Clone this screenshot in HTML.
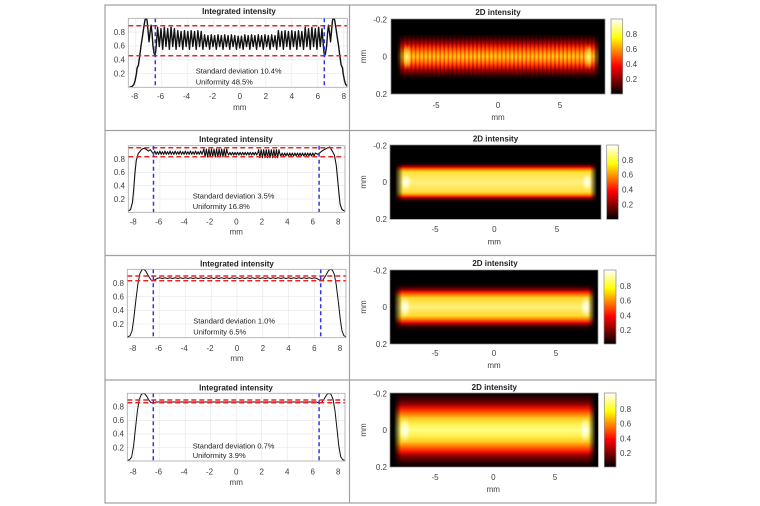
<!DOCTYPE html>
<html><head><meta charset="utf-8"><style>html,body{margin:0;padding:0;background:#fff}svg{display:block}</style></head>
<body>
<svg width="760" height="506" viewBox="0 0 760 506" xmlns="http://www.w3.org/2000/svg" font-family="'Liberation Sans', Arial, sans-serif">
<defs>
<linearGradient id="cb" x1="0" y1="0" x2="0" y2="1"><stop offset="0" stop-color="#fff"/><stop offset=".25" stop-color="#ff0"/><stop offset=".625" stop-color="#f00"/><stop offset="1" stop-color="#000"/></linearGradient>
<linearGradient id="b1" x1="0" y1="0" x2="0" y2="1"><stop offset="0" stop-color="#000"/><stop offset=".2" stop-color="#000"/><stop offset=".26" stop-color="#300000"/><stop offset=".32" stop-color="#800000"/><stop offset=".38" stop-color="#d81000"/><stop offset=".44" stop-color="#ff4800"/><stop offset=".5" stop-color="#ff7800"/><stop offset=".56" stop-color="#ff4800"/><stop offset=".62" stop-color="#d81000"/><stop offset=".68" stop-color="#800000"/><stop offset=".74" stop-color="#300000"/><stop offset=".8" stop-color="#000"/><stop offset="1" stop-color="#000"/></linearGradient>
<linearGradient id="b1s" x1="0" y1="0" x2="0" y2="1"><stop offset="0" stop-color="#000"/><stop offset=".2" stop-color="#000"/><stop offset=".26" stop-color="#480000"/><stop offset=".32" stop-color="#b00000"/><stop offset=".38" stop-color="#ff3800"/><stop offset=".44" stop-color="#ff9800"/><stop offset=".5" stop-color="#ffcc20"/><stop offset=".56" stop-color="#ff9800"/><stop offset=".62" stop-color="#ff3800"/><stop offset=".68" stop-color="#b00000"/><stop offset=".74" stop-color="#480000"/><stop offset=".8" stop-color="#000"/><stop offset="1" stop-color="#000"/></linearGradient>
<pattern id="p1" patternUnits="userSpaceOnUse" x="400" y="19" width="4.1" height="75"><rect x="0" y="0" width="2.4" height="75" fill="url(#b1s)"/></pattern>
<linearGradient id="b2" x1="0" y1="0" x2="0" y2="1"><stop offset="0" stop-color="#000"/><stop offset=".23" stop-color="#000"/><stop offset=".26" stop-color="#300000"/><stop offset=".29" stop-color="#a00000"/><stop offset=".31" stop-color="#ff3000"/><stop offset=".34" stop-color="#ffb000"/><stop offset=".37" stop-color="#ffe040"/><stop offset=".5" stop-color="#fff080"/><stop offset=".63" stop-color="#ffe040"/><stop offset=".66" stop-color="#ffb000"/><stop offset=".69" stop-color="#ff3000"/><stop offset=".71" stop-color="#a00000"/><stop offset=".74" stop-color="#300000"/><stop offset=".77" stop-color="#000"/><stop offset="1" stop-color="#000"/></linearGradient>
<linearGradient id="b3" x1="0" y1="0" x2="0" y2="1"><stop offset="0" stop-color="#000"/><stop offset=".18" stop-color="#000"/><stop offset=".23" stop-color="#300000"/><stop offset=".27" stop-color="#900000"/><stop offset=".30" stop-color="#ff2000"/><stop offset=".34" stop-color="#ff9000"/><stop offset=".38" stop-color="#ffd830"/><stop offset=".5" stop-color="#fff07a"/><stop offset=".62" stop-color="#ffd830"/><stop offset=".66" stop-color="#ff9000"/><stop offset=".70" stop-color="#ff2000"/><stop offset=".73" stop-color="#900000"/><stop offset=".77" stop-color="#300000"/><stop offset=".82" stop-color="#000"/><stop offset="1" stop-color="#000"/></linearGradient>
<linearGradient id="b4" x1="0" y1="0" x2="0" y2="1"><stop offset="0" stop-color="#050000"/><stop offset=".04" stop-color="#200000"/><stop offset=".10" stop-color="#500000"/><stop offset=".16" stop-color="#a00000"/><stop offset=".22" stop-color="#ff2000"/><stop offset=".28" stop-color="#ff7800"/><stop offset=".34" stop-color="#ffc820"/><stop offset=".42" stop-color="#fff050"/><stop offset=".5" stop-color="#ffff80"/><stop offset=".58" stop-color="#fff050"/><stop offset=".66" stop-color="#ffc820"/><stop offset=".72" stop-color="#ff7800"/><stop offset=".78" stop-color="#ff2000"/><stop offset=".84" stop-color="#a00000"/><stop offset=".90" stop-color="#500000"/><stop offset=".96" stop-color="#200000"/><stop offset="1" stop-color="#050000"/></linearGradient>
<linearGradient id="h1"><stop offset=".028" stop-color="#000"/><stop offset=".061" stop-color="#fff"/><stop offset=".944" stop-color="#fff"/><stop offset=".977" stop-color="#000"/></linearGradient>
<linearGradient id="h2"><stop offset=".0237" stop-color="#000"/><stop offset=".0616" stop-color="#fff"/><stop offset=".948" stop-color="#fff"/><stop offset=".981" stop-color="#000"/></linearGradient>
<linearGradient id="h3"><stop offset=".019" stop-color="#000"/><stop offset=".058" stop-color="#fff"/><stop offset=".952" stop-color="#fff"/><stop offset=".986" stop-color="#000"/></linearGradient>
<linearGradient id="h4"><stop offset=".0187" stop-color="#000"/><stop offset=".0528" stop-color="#fff"/><stop offset=".9539" stop-color="#fff"/><stop offset=".9875" stop-color="#000"/></linearGradient>
<mask id="m1" maskUnits="userSpaceOnUse" x="391" y="19" width="214" height="75"><rect x="391" y="19" width="214" height="75" fill="url(#h1)"/></mask>
<mask id="m2" maskUnits="userSpaceOnUse" x="390" y="145" width="211" height="74.3"><rect x="390" y="145" width="211" height="74.3" fill="url(#h2)"/></mask>
<mask id="m3" maskUnits="userSpaceOnUse" x="390" y="270" width="208" height="74"><rect x="390" y="270" width="208" height="74" fill="url(#h3)"/></mask>
<mask id="m4" maskUnits="userSpaceOnUse" x="390" y="393" width="208.3" height="74"><rect x="390" y="393" width="208.3" height="74" fill="url(#h4)"/></mask>
<radialGradient id="gy"><stop offset="0" stop-color="#ffffa0" stop-opacity=".95"/><stop offset=".55" stop-color="#ffe040" stop-opacity=".6"/><stop offset="1" stop-color="#ffa000" stop-opacity="0"/></radialGradient>
<radialGradient id="gw"><stop offset="0" stop-color="#ffffff" stop-opacity="1"/><stop offset=".5" stop-color="#ffffd0" stop-opacity=".7"/><stop offset="1" stop-color="#fff080" stop-opacity="0"/></radialGradient>
<clipPath id="c1"><rect x="128.3" y="18.3" width="219" height="69"/></clipPath>
<clipPath id="c2"><rect x="128.3" y="145.7" width="216.7" height="66.6"/></clipPath>
<clipPath id="c3"><rect x="127.3" y="269.3" width="218.7" height="68.4"/></clipPath>
<clipPath id="c4"><rect x="127.3" y="393.3" width="217.7" height="67.7"/></clipPath>
</defs>

<!-- table -->
<g stroke="#a0a0a0" stroke-width="1.2" fill="none">
<rect x="105" y="5" width="551" height="498"/>
<line x1="349.5" y1="5" x2="349.5" y2="503"/>
<line x1="105" y1="130.5" x2="656" y2="130.5"/>
<line x1="105" y1="255.5" x2="656" y2="255.5"/>
<line x1="105" y1="380" x2="656" y2="380"/>
</g>

<!-- ============ ROW 1 LEFT ============ -->
<g stroke="#e6e6e6" stroke-width=".6">
<line x1="135.8" y1="18.3" x2="135.8" y2="87.3"/><line x1="161.8" y1="18.3" x2="161.8" y2="87.3"/><line x1="187.8" y1="18.3" x2="187.8" y2="87.3"/><line x1="213.8" y1="18.3" x2="213.8" y2="87.3"/><line x1="239.8" y1="18.3" x2="239.8" y2="87.3"/><line x1="265.8" y1="18.3" x2="265.8" y2="87.3"/><line x1="291.8" y1="18.3" x2="291.8" y2="87.3"/><line x1="317.8" y1="18.3" x2="317.8" y2="87.3"/><line x1="343.8" y1="18.3" x2="343.8" y2="87.3"/>
<line x1="128.3" y1="73.5" x2="347.3" y2="73.5"/><line x1="128.3" y1="59.7" x2="347.3" y2="59.7"/><line x1="128.3" y1="45.9" x2="347.3" y2="45.9"/><line x1="128.3" y1="32.1" x2="347.3" y2="32.1"/>
</g>
<g clip-path="url(#c1)"><g transform="translate(239.8,87.3) scale(13,-69)">
<path vector-effect="non-scaling-stroke" fill="none" stroke="#111" stroke-width="1.4" stroke-linejoin="round" d="M-8.5,0 L-8.3,.01 L-8.15,.04 L-8.05,.1 L-7.95,.2 L-7.9,.28 L-7.8,.32 L-7.7,.45 L-7.6,.6 L-7.5,.72 L-7.4,.85 L-7.3,.97 L-7.2,1.03 L-7.12,.95 L-7.05,.8 L-6.98,.66 L-6.9,.8 L-6.82,.9 L-6.75,.78 L-6.68,.6 L-6.6,.5 L-6.52,.45 L-6.45,.55
l.129,.32 l.129,-.28 l.129,.26 l.129,-.30 l.129,.32 l.129,-.28 l.129,.26 l.129,-.30 l.129,.32 l.129,-.28 l.129,.26 l.129,-.30
l.129,.27 l.129,-.23 l.129,.22 l.129,-.26 l.129,.27 l.129,-.23 l.129,.22 l.129,-.26 l.129,.27 l.129,-.23 l.129,.22 l.129,-.26 l.129,.27 l.129,-.23 l.129,.22 l.129,-.26
l.129,.21 l.129,-.17 l.129,.16 l.129,-.20 l.129,.21 l.129,-.17 l.129,.16 l.129,-.20 l.129,.21 l.129,-.17 l.129,.16 l.129,-.20 l.129,.21 l.129,-.17 l.129,.16 l.129,-.20 l.129,.21 l.129,-.17 l.129,.16 l.129,-.20
l.129,.19 l.129,-.17 l.129,.17 l.129,-.19
l.129,.21 l.129,-.17 l.129,.16 l.129,-.20 l.129,.21 l.129,-.17 l.129,.16 l.129,-.20 l.129,.21 l.129,-.17 l.129,.16 l.129,-.20 l.129,.21 l.129,-.17 l.129,.16 l.129,-.20 l.129,.21 l.129,-.17 l.129,.16 l.129,-.20
l.129,.27 l.129,-.23 l.129,.22 l.129,-.26 l.129,.27 l.129,-.23 l.129,.22 l.129,-.26 l.129,.27 l.129,-.23 l.129,.22 l.129,-.26 l.129,.27 l.129,-.23 l.129,.22 l.129,-.26
l.129,.32 l.129,-.28 l.129,.26 l.129,-.30 l.129,.32 l.129,-.28 l.129,.26 l.129,-.30 l.129,.32 l.129,-.28 l.129,.26 l.129,-.30
L6.52,.45 L6.6,.5 L6.68,.6 L6.75,.78 L6.82,.9 L6.9,.8 L6.98,.66 L7.05,.8 L7.12,.95 L7.2,1.03 L7.3,.97 L7.4,.85 L7.5,.72 L7.6,.6 L7.7,.45 L7.8,.32 L7.9,.28 L7.95,.2 L8.05,.1 L8.15,.04 L8.3,.01 L8.5,0"/>
</g></g>
<g stroke="#e02828" stroke-width="1.5" stroke-dasharray="5,3"><line x1="128.3" y1="25.7" x2="347.3" y2="25.7"/><line x1="128.3" y1="55.7" x2="347.3" y2="55.7"/></g>
<g stroke="#3535e0" stroke-width="1.5" stroke-dasharray="4,3"><line x1="155.3" y1="18.3" x2="155.3" y2="87.3"/><line x1="324.3" y1="18.3" x2="324.3" y2="87.3"/></g>
<rect x="128.3" y="18.3" width="219" height="69" fill="none" stroke="#a8a8a8" stroke-width=".8"/>
<text x="239" y="14" font-size="8" font-weight="bold" text-anchor="middle" fill="#222">Integrated intensity</text>
<g font-size="8" fill="#404040" text-anchor="end"><text x="125" y="34.9">0.8</text><text x="125" y="48.7">0.6</text><text x="125" y="62.5">0.4</text><text x="125" y="76.3">0.2</text></g>
<g font-size="8" fill="#404040" text-anchor="middle"><text x="134.5" y="99">-8</text><text x="160.5" y="99">-6</text><text x="186.5" y="99">-4</text><text x="212.5" y="99">-2</text><text x="239.8" y="99">0</text><text x="265.8" y="99">2</text><text x="291.8" y="99">4</text><text x="317.8" y="99">6</text><text x="343.8" y="99">8</text><text x="239.8" y="110">mm</text></g>
<g font-size="7.5" fill="#222"><text x="195.7" y="73.5">Standard deviation 10.4%</text><text x="195.7" y="84.5">Uniformity 48.5%</text></g>

<!-- ============ ROW 1 RIGHT ============ -->
<rect x="391" y="19" width="214" height="75" fill="#000"/>
<g mask="url(#m1)">
<rect x="391" y="19" width="214" height="75" fill="url(#b1)"/>
<rect x="391" y="19" width="214" height="75" fill="url(#p1)"/>
<ellipse cx="407" cy="57" rx="5" ry="13" fill="url(#gy)"/>
<ellipse cx="588.5" cy="57" rx="5" ry="13" fill="url(#gy)"/>
</g>
<rect x="391" y="19" width="214" height="75" fill="none" stroke="#888" stroke-width=".7"/>
<rect x="611" y="19" width="11.7" height="75" fill="url(#cb)" stroke="#888" stroke-width=".7"/>
<text x="498" y="15" font-size="8" font-weight="bold" text-anchor="middle" fill="#222">2D intensity</text>
<g font-size="8" fill="#404040"><text x="626" y="37">0.8</text><text x="626" y="52">0.6</text><text x="626" y="67">0.4</text><text x="626" y="82">0.2</text></g>
<g font-size="8" fill="#404040" text-anchor="end"><text x="387" y="22.5">-0.2</text><text x="387" y="59.5">0</text><text x="387" y="97">0.2</text></g>
<g font-size="8" fill="#404040" text-anchor="middle"><text x="436" y="108">-5</text><text x="498" y="108">0</text><text x="560" y="108">5</text><text x="498" y="120">mm</text><text transform="translate(366,56.5) rotate(-90)">mm</text></g>

<!-- ============ ROW 2 LEFT ============ -->
<g stroke="#e6e6e6" stroke-width=".6">
<line x1="134.4" y1="145.7" x2="134.4" y2="212.3"/><line x1="159.9" y1="145.7" x2="159.9" y2="212.3"/><line x1="185.3" y1="145.7" x2="185.3" y2="212.3"/><line x1="210.8" y1="145.7" x2="210.8" y2="212.3"/><line x1="236.3" y1="145.7" x2="236.3" y2="212.3"/><line x1="261.8" y1="145.7" x2="261.8" y2="212.3"/><line x1="287.3" y1="145.7" x2="287.3" y2="212.3"/><line x1="312.7" y1="145.7" x2="312.7" y2="212.3"/><line x1="338.2" y1="145.7" x2="338.2" y2="212.3"/>
<line x1="128.3" y1="199" x2="345" y2="199"/><line x1="128.3" y1="185.7" x2="345" y2="185.7"/><line x1="128.3" y1="172.3" x2="345" y2="172.3"/><line x1="128.3" y1="159" x2="345" y2="159"/>
</g>
<g clip-path="url(#c2)"><g transform="translate(236.3,212.3) scale(12.74,-66.6)">
<path vector-effect="non-scaling-stroke" fill="none" stroke="#111" stroke-width="1.1" stroke-linejoin="round" d="M-8.5,.02 L-8.3,.04 L-8.15,.15 L-8.05,.35 L-7.95,.6 L-7.85,.78 L-7.7,.88 L-7.5,.93 L-7.3,.96 L-7.1,.95 L-6.9,.92 L-6.75,.94 L-6.6,.9 L-6.5,.88 L-6.4,.92
l.1,-.05 l.1,.04 l.1,-.04 l.1,.05 l.1,-.05 l.1,.04 l.1,-.04 l.1,.05 l.1,-.05 l.1,.04 l.1,-.04 l.1,.05 l.1,-.05 l.1,.04 l.1,-.04 l.1,.05 l.1,-.05 l.1,.04 l.1,-.04 l.1,.05
l.1,-.05 l.1,.04 l.1,-.04 l.1,.05 l.1,-.05 l.1,.04 l.1,-.04 l.1,.05 l.1,-.05 l.1,.04 l.1,-.04 l.1,.05 l.1,-.05 l.1,.04 l.1,-.04 l.1,.05 l.1,-.05 l.1,.05
l.05,.03 l.1,-.12 l.1,.12 l.1,-.12 l.1,.12 l.1,-.12 l.1,.12 l.1,-.12 l.1,.12 l.1,-.12 l.1,.12 l.1,-.12 l.1,.12 l.1,-.12 l.1,.12 l.1,-.12 l.1,.12 l.1,-.12 l.1,.12 l.05,-.05
l.1,-.04 l.1,.04 l.1,-.04 l.1,.04 l.1,-.04 l.1,.04 l.1,-.04 l.1,.04 l.1,-.04 l.1,.04 l.1,-.04 l.1,.04 l.1,-.04 l.1,.04 l.1,-.04 l.1,.04 l.1,-.04 l.1,.04 l.1,-.04 l.1,.04 l.1,-.04 l.1,.04 l.1,-.04 l.1,.04
l.05,.04 l.1,-.12 l.1,.12 l.1,-.12 l.1,.12 l.1,-.12 l.1,.12 l.1,-.12 l.1,.12 l.1,-.12 l.1,.12 l.1,-.12 l.1,.12 l.1,-.12 l.1,.12 l.1,-.12 l.1,.12 l.05,-.05
l.1,-.045 l.1,.045 l.1,-.045 l.1,.045 l.1,-.045 l.1,.045 l.1,-.045 l.1,.045 l.1,-.045 l.1,.045 l.1,-.045 l.1,.045 l.1,-.045 l.1,.045 l.1,-.045 l.1,.045 l.1,-.045 l.1,.045 l.1,-.045 l.1,.045 l.1,-.045 l.1,.045 l.1,-.045 l.1,.045 l.1,-.045 l.1,.045 l.1,-.045 l.1,.045
L6.4,.87 L6.6,.9 L6.8,.93 L7.0,.95 L7.2,.97 L7.35,.98 L7.5,.93 L7.7,.86 L7.85,.7 L7.95,.5 L8.05,.3 L8.15,.12 L8.3,.04 L8.5,.02"/>
</g></g>
<g stroke="#e02828" stroke-width="1.5" stroke-dasharray="5,3"><line x1="128.3" y1="147.7" x2="345" y2="147.7"/><line x1="128.3" y1="156.7" x2="345" y2="156.7"/></g>
<g stroke="#3535e0" stroke-width="1.5" stroke-dasharray="4,3"><line x1="153.5" y1="145.7" x2="153.5" y2="212.3"/><line x1="319.1" y1="145.7" x2="319.1" y2="212.3"/></g>
<rect x="128.3" y="145.7" width="216.7" height="66.6" fill="none" stroke="#a8a8a8" stroke-width=".8"/>
<text x="236" y="142" font-size="8" font-weight="bold" text-anchor="middle" fill="#222">Integrated intensity</text>
<g font-size="8" fill="#404040" text-anchor="end"><text x="125" y="161.8">0.8</text><text x="125" y="175.1">0.6</text><text x="125" y="188.5">0.4</text><text x="125" y="201.8">0.2</text></g>
<g font-size="8" fill="#404040" text-anchor="middle"><text x="133.2" y="224.5">-8</text><text x="158.7" y="224.5">-6</text><text x="184.1" y="224.5">-4</text><text x="209.6" y="224.5">-2</text><text x="236.3" y="224.5">0</text><text x="261.8" y="224.5">2</text><text x="287.3" y="224.5">4</text><text x="312.7" y="224.5">6</text><text x="338.2" y="224.5">8</text><text x="236.3" y="234.5">mm</text></g>
<g font-size="7.5" fill="#222"><text x="192.7" y="198.5">Standard deviation 3.5%</text><text x="192.7" y="209">Uniformity 16.8%</text></g>

<!-- ============ ROW 2 RIGHT ============ -->
<rect x="390" y="145" width="211" height="74.3" fill="#000"/>
<g mask="url(#m2)">
<rect x="390" y="145" width="211" height="74.3" fill="url(#b2)"/>
<ellipse cx="406" cy="182" rx="6" ry="9" fill="url(#gw)"/>
<ellipse cx="587" cy="182" rx="6" ry="9" fill="url(#gw)"/>
</g>
<rect x="390" y="145" width="211" height="74.3" fill="none" stroke="#888" stroke-width=".7"/>
<rect x="606.7" y="145" width="11.6" height="74.3" fill="url(#cb)" stroke="#888" stroke-width=".7"/>
<text x="495.5" y="141.3" font-size="8" font-weight="bold" text-anchor="middle" fill="#222">2D intensity</text>
<g font-size="8" fill="#404040"><text x="622" y="162.9">0.8</text><text x="622" y="177.7">0.6</text><text x="622" y="192.6">0.4</text><text x="622" y="207.4">0.2</text></g>
<g font-size="8" fill="#404040" text-anchor="end"><text x="387" y="148.5">-0.2</text><text x="387" y="185">0</text><text x="387" y="222">0.2</text></g>
<g font-size="8" fill="#404040" text-anchor="middle"><text x="435" y="232">-5</text><text x="494.3" y="232">0</text><text x="557" y="232">5</text><text x="494.3" y="244.5">mm</text><text transform="translate(366,182) rotate(-90)">mm</text></g>

<!-- ============ ROW 3 LEFT ============ -->
<g stroke="#e6e6e6" stroke-width=".6">
<line x1="134" y1="269.3" x2="134" y2="337.7"/><line x1="159.7" y1="269.3" x2="159.7" y2="337.7"/><line x1="185.5" y1="269.3" x2="185.5" y2="337.7"/><line x1="211.2" y1="269.3" x2="211.2" y2="337.7"/><line x1="237" y1="269.3" x2="237" y2="337.7"/><line x1="262.8" y1="269.3" x2="262.8" y2="337.7"/><line x1="288.5" y1="269.3" x2="288.5" y2="337.7"/><line x1="314.3" y1="269.3" x2="314.3" y2="337.7"/><line x1="340" y1="269.3" x2="340" y2="337.7"/>
<line x1="127.3" y1="324" x2="346" y2="324"/><line x1="127.3" y1="310.3" x2="346" y2="310.3"/><line x1="127.3" y1="296.7" x2="346" y2="296.7"/><line x1="127.3" y1="283" x2="346" y2="283"/>
</g>
<g clip-path="url(#c3)"><g transform="translate(237,337.7) scale(12.88,-68.4)">
<path vector-effect="non-scaling-stroke" fill="none" stroke="#111" stroke-width="1" stroke-linejoin="round" d="M-8.5,.01 L-8.3,.03 L-8.15,.1 L-8.0,.3 L-7.85,.55 L-7.7,.78 L-7.55,.93 L-7.4,.99 L-7.25,1.0 L-7.1,.98 L-6.95,.93 L-6.8,.88 L-6.65,.84 L-6.5,.83 L-6.35,.85 L-6.2,.865
l.2,.012 l.2,-.012 l.2,.012 l.2,-.012 l.2,.012 l.2,-.012 l.2,.012 l.2,-.012 l.2,.012 l.2,-.012 l.2,.012 l.2,-.012 l.2,.012 l.2,-.012 l.2,.012 l.2,-.012 l.2,.012 l.2,-.012 l.2,.012 l.2,-.012 l.2,.012 l.2,-.012 l.2,.012 l.2,-.012 l.2,.012 l.2,-.012 l.2,.012 l.2,-.012 l.2,.012 l.2,-.012 l.2,.012 l.2,-.012
l.2,.012 l.2,-.012 l.2,.012 l.2,-.012 l.2,.012 l.2,-.012 l.2,.012 l.2,-.012 l.2,.012 l.2,-.012 l.2,.012 l.2,-.012 l.2,.012 l.2,-.012 l.2,.012 l.2,-.012 l.2,.012 l.2,-.012 l.2,.012 l.2,-.012 l.2,.012 l.2,-.012 l.2,.012 l.2,-.012 l.2,.012 l.2,-.012 l.2,.012 l.2,-.012 l.2,.012 l.2,-.012
L6.35,.85 L6.5,.83 L6.65,.84 L6.8,.88 L6.95,.93 L7.1,.98 L7.25,1.0 L7.4,.99 L7.55,.93 L7.7,.78 L7.85,.55 L8.0,.3 L8.15,.1 L8.3,.03 L8.5,.01"/>
</g></g>
<g stroke="#e02828" stroke-width="1.5" stroke-dasharray="5,3"><line x1="127.3" y1="276" x2="346" y2="276"/><line x1="127.3" y1="280.7" x2="346" y2="280.7"/></g>
<g stroke="#3535e0" stroke-width="1.5" stroke-dasharray="4,3"><line x1="153.3" y1="269.3" x2="153.3" y2="337.7"/><line x1="320.7" y1="269.3" x2="320.7" y2="337.7"/></g>
<rect x="127.3" y="269.3" width="218.7" height="68.4" fill="none" stroke="#a8a8a8" stroke-width=".8"/>
<text x="237" y="266.3" font-size="8" font-weight="bold" text-anchor="middle" fill="#222">Integrated intensity</text>
<g font-size="8" fill="#404040" text-anchor="end"><text x="124" y="285.8">0.8</text><text x="124" y="299.5">0.6</text><text x="124" y="313.1">0.4</text><text x="124" y="326.8">0.2</text></g>
<g font-size="8" fill="#404040" text-anchor="middle"><text x="132.8" y="351">-8</text><text x="158.5" y="351">-6</text><text x="184.3" y="351">-4</text><text x="210" y="351">-2</text><text x="237" y="351">0</text><text x="262.8" y="351">2</text><text x="288.5" y="351">4</text><text x="314.3" y="351">6</text><text x="340" y="351">8</text><text x="237" y="361">mm</text></g>
<g font-size="7.5" fill="#222"><text x="193.3" y="323.7">Standard deviation 1.0%</text><text x="193.3" y="334.5">Uniformity 6.5%</text></g>

<!-- ============ ROW 3 RIGHT ============ -->
<rect x="390" y="270" width="208" height="74" fill="#000"/>
<g mask="url(#m3)">
<rect x="390" y="270" width="208" height="74" fill="url(#b3)"/>
<ellipse cx="405" cy="307" rx="6" ry="11" fill="url(#gw)"/>
<ellipse cx="586" cy="307" rx="6" ry="11" fill="url(#gw)"/>
</g>
<rect x="390" y="270" width="208" height="74" fill="none" stroke="#888" stroke-width=".7"/>
<rect x="604" y="270" width="12" height="74" fill="url(#cb)" stroke="#888" stroke-width=".7"/>
<text x="495" y="266" font-size="8" font-weight="bold" text-anchor="middle" fill="#222">2D intensity</text>
<g font-size="8" fill="#404040"><text x="620" y="288.8">0.8</text><text x="620" y="303.6">0.6</text><text x="620" y="318.4">0.4</text><text x="620" y="333.2">0.2</text></g>
<g font-size="8" fill="#404040" text-anchor="end"><text x="387" y="273.5">-0.2</text><text x="387" y="310">0</text><text x="387" y="347">0.2</text></g>
<g font-size="8" fill="#404040" text-anchor="middle"><text x="435" y="356">-5</text><text x="494" y="356">0</text><text x="556" y="356">5</text><text x="494" y="368">mm</text><text transform="translate(366,307) rotate(-90)">mm</text></g>

<!-- ============ ROW 4 LEFT ============ -->
<g stroke="#e6e6e6" stroke-width=".6">
<line x1="134.2" y1="393.3" x2="134.2" y2="461"/><line x1="159.7" y1="393.3" x2="159.7" y2="461"/><line x1="185.2" y1="393.3" x2="185.2" y2="461"/><line x1="210.7" y1="393.3" x2="210.7" y2="461"/><line x1="236.2" y1="393.3" x2="236.2" y2="461"/><line x1="261.7" y1="393.3" x2="261.7" y2="461"/><line x1="287.2" y1="393.3" x2="287.2" y2="461"/><line x1="312.7" y1="393.3" x2="312.7" y2="461"/><line x1="338.2" y1="393.3" x2="338.2" y2="461"/>
<line x1="127.3" y1="447.5" x2="345" y2="447.5"/><line x1="127.3" y1="433.9" x2="345" y2="433.9"/><line x1="127.3" y1="420.4" x2="345" y2="420.4"/><line x1="127.3" y1="406.8" x2="345" y2="406.8"/>
</g>
<g clip-path="url(#c4)"><g transform="translate(236.2,461) scale(12.75,-67.7)">
<path vector-effect="non-scaling-stroke" fill="none" stroke="#111" stroke-width="1" stroke-linejoin="round" d="M-8.5,.01 L-8.35,.02 L-8.2,.06 L-8.05,.22 L-7.9,.48 L-7.75,.74 L-7.6,.91 L-7.45,.98 L-7.3,1.0 L-7.15,.99 L-7.0,.95 L-6.85,.9 L-6.7,.865 L-6.55,.855 L-6.45,.86 L-6.3,.872 L6.3,.872 L6.45,.86 L6.55,.855 L6.7,.865 L6.85,.9 L7.0,.95 L7.15,.99 L7.3,1.0 L7.45,.98 L7.6,.91 L7.75,.74 L7.9,.48 L8.05,.22 L8.2,.06 L8.35,.02 L8.5,.01"/>
</g></g>
<g stroke="#e02828" stroke-width="1.5" stroke-dasharray="5,3"><line x1="127.3" y1="400" x2="345" y2="400"/><line x1="127.3" y1="402.7" x2="345" y2="402.7"/></g>
<g stroke="#3535e0" stroke-width="1.5" stroke-dasharray="4,3"><line x1="153.3" y1="393.3" x2="153.3" y2="461"/><line x1="319.1" y1="393.3" x2="319.1" y2="461"/></g>
<rect x="127.3" y="393.3" width="217.7" height="67.7" fill="none" stroke="#a8a8a8" stroke-width=".8"/>
<text x="236" y="390.3" font-size="8" font-weight="bold" text-anchor="middle" fill="#222">Integrated intensity</text>
<g font-size="8" fill="#404040" text-anchor="end"><text x="124" y="409.6">0.8</text><text x="124" y="423.2">0.6</text><text x="124" y="436.7">0.4</text><text x="124" y="450.3">0.2</text></g>
<g font-size="8" fill="#404040" text-anchor="middle"><text x="133" y="474.5">-8</text><text x="158.5" y="474.5">-6</text><text x="184" y="474.5">-4</text><text x="209.5" y="474.5">-2</text><text x="236.2" y="474.5">0</text><text x="261.7" y="474.5">2</text><text x="287.2" y="474.5">4</text><text x="312.7" y="474.5">6</text><text x="338.2" y="474.5">8</text><text x="236.2" y="485">mm</text></g>
<g font-size="7.5" fill="#222"><text x="192.7" y="448.5">Standard deviation 0.7%</text><text x="192.7" y="458">Uniformity 3.9%</text></g>

<!-- ============ ROW 4 RIGHT ============ -->
<rect x="390" y="393" width="208.3" height="74" fill="#000"/>
<g mask="url(#m4)">
<rect x="390" y="393" width="208.3" height="74" fill="url(#b4)"/>
<ellipse cx="405" cy="430" rx="6" ry="13" fill="url(#gw)"/>
<ellipse cx="585" cy="430" rx="6" ry="13" fill="url(#gw)"/>
</g>
<rect x="390" y="393" width="208.3" height="74" fill="none" stroke="#888" stroke-width=".7"/>
<rect x="604.3" y="393" width="11.7" height="74" fill="url(#cb)" stroke="#888" stroke-width=".7"/>
<text x="494.3" y="390" font-size="8" font-weight="bold" text-anchor="middle" fill="#222">2D intensity</text>
<g font-size="8" fill="#404040"><text x="620" y="411.8">0.8</text><text x="620" y="426.6">0.6</text><text x="620" y="441.4">0.4</text><text x="620" y="456.2">0.2</text></g>
<g font-size="8" fill="#404040" text-anchor="end"><text x="387" y="396.5">-0.2</text><text x="387" y="433">0</text><text x="387" y="470">0.2</text></g>
<g font-size="8" fill="#404040" text-anchor="middle"><text x="435" y="480">-5</text><text x="493.3" y="480">0</text><text x="555" y="480">5</text><text x="493.3" y="492">mm</text><text transform="translate(366,430) rotate(-90)">mm</text></g>
</svg>
</body></html>
